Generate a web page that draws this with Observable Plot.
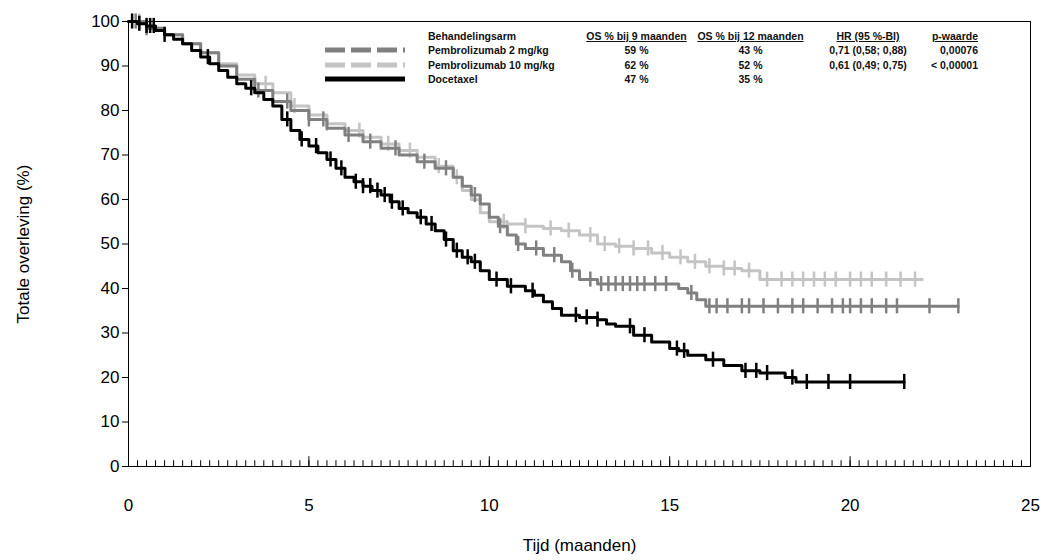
<!DOCTYPE html>
<html><head><meta charset="utf-8">
<script src="https://cdn.jsdelivr.net/npm/d3@7"></script>
<script src="https://cdn.jsdelivr.net/npm/@observablehq/plot@0.6"></script>
<style>
body{margin:0;background:#fff;font-family:"Liberation Sans",Arial,sans-serif;}
#wrap{position:relative;width:1050px;height:560px;}
#leg{position:absolute;left:325px;top:29px;font-size:10.5px;font-weight:bold;color:#111;background:#fff;}
#leg table{border-collapse:collapse;table-layout:fixed;}
#leg td{padding:0;line-height:14.5px;white-space:nowrap;}
#leg th{font-weight:bold;padding:0;line-height:14px;white-space:nowrap;}
#leg th span{text-decoration:underline;}
</style></head><body>
<div id="wrap"><div id="chart"></div>
<div id="leg"><table>
<colgroup><col style="width:103px"><col style="width:157px"><col style="width:103px"><col style="width:125px"><col style="width:110px"><col style="width:55px"></colgroup>
<tr><th></th><th style="text-align:left">Behandelingsarm</th><th><span>OS % bij 9 maanden</span></th><th><span>OS % bij 12 maanden</span></th><th><span>HR (95 %-BI)</span></th><th style="text-align:right"><span>p-waarde</span></th></tr>
<tr><td><svg width="80" height="8"><line x1="0" x2="80" y1="4" y2="4" stroke="#808080" stroke-width="5" stroke-dasharray="20,6"/></svg></td><td>Pembrolizumab 2 mg/kg</td><td style="text-align:center">59 %</td><td style="text-align:center">43 %</td><td style="text-align:center">0,71 (0,58; 0,88)</td><td style="text-align:right">0,00076</td></tr>
<tr><td><svg width="80" height="8"><line x1="0" x2="80" y1="4" y2="4" stroke="#c4c4c4" stroke-width="5" stroke-dasharray="20,6"/></svg></td><td>Pembrolizumab 10 mg/kg</td><td style="text-align:center">62 %</td><td style="text-align:center">52 %</td><td style="text-align:center">0,61 (0,49; 0,75)</td><td style="text-align:right">&lt; 0,00001</td></tr>
<tr><td><svg width="80" height="8"><line x1="0" x2="80" y1="4" y2="4" stroke="#000" stroke-width="5"/></svg></td><td>Docetaxel</td><td style="text-align:center">47 %</td><td style="text-align:center">35 %</td><td></td><td></td></tr>
</table></div></div>
<script>
const docT=[0,0.25,0.5,0.75,1,1.25,1.5,1.75,2,2.25,2.5,2.75,3,3.25,3.5,3.75,4,4.25,4.5,4.75,5,5.25,5.5,5.75,6,6.25,6.5,6.75,7,7.25,7.5,7.75,8,8.25,8.5,8.75,9,9.25,9.5,9.75,10,10.5,11,11.25,11.5,11.75,12,12.5,13,13.25,13.5,14,14.5,15,15.25,15.5,16,16.5,17,17.5,18,18.2,18.5,21.5];
const docS=[100,99.5,99,98,97,96,95,93.5,92,90.5,89,87.5,86,85,84,82.5,81,78,75.5,73.5,72,70.5,69,67,65,64,63,62,61,59.5,58,57,56,54.5,53,51,48.5,47,46,44,42,40.5,39.5,38.5,37,35.5,34,33.5,33,32,31.5,29.5,28,26.5,26,25,24,22.7,21.5,21,21,20,19,19];
const p2T=[0,0.5,1,1.5,2,2.5,3,3.5,4,4.5,5,5.5,6,6.5,7,7.5,8,8.5,9,9.25,9.5,9.75,10,10.25,10.5,10.75,11,11.5,12,12.25,12.5,13,14,15,15.25,15.5,15.75,16,17,18,23];
const p2S=[100,98.5,97,95,93,90,87,84.5,82,80,78,76,74.5,73,71.5,70,68.5,67,65,63,61,59,56,54,52,50,49,47.5,46,44,42,41,41,41,40,39,37.5,36,36,36,36];
const p10T=[0,0.5,1,1.5,2,2.5,3,3.5,4,4.5,5,5.5,6,6.5,7,7.5,8,8.5,9,9.25,9.5,9.75,10,10.5,11,11.5,12,12.5,13,13.5,14,14.5,15,15.5,16,16.5,17,17.5,18,22];
const p10S=[100,98.5,97,95,93,90.5,88,86,84,81,79,77,75.5,74,72.5,71,69.5,67.5,65,62,60,57,55,54.5,54,53.5,53,52,50,49.5,49,48,47,46,45,44.5,44,42,42,42];
const docC=[0.1,0.3,0.5,0.6,0.7,1,2.2,3.4,4.4,4.8,5.2,5.6,5.9,6.3,6.5,6.7,6.9,7.1,7.3,7.6,8.1,8.4,8.8,9.1,9.4,9.6,10.2,10.6,11.2,12.4,12.7,13,13.9,14.3,15.2,15.4,16.2,17.1,17.4,17.7,18.4,18.8,19.4,20,21.5];
const p2C=[0.2,0.5,3.6,4.4,5,5.4,6.1,6.7,7.4,8.2,8.8,9.6,10.3,10.8,11.3,11.8,12.3,12.8,13.1,13.3,13.5,13.7,13.9,14.1,14.3,14.6,14.9,15.6,16.1,16.3,16.6,17,17.2,17.6,18,18.4,18.7,19.1,19.5,19.8,20,20.3,20.6,21,21.3,22.2,23];
const p10C=[0.3,3.8,4.6,5.5,6.4,7.2,7.8,8.6,9.1,10.4,11,11.7,12.2,12.8,13.2,13.6,14,14.4,14.8,15.3,15.7,16.1,16.5,16.8,17.2,17.7,18.1,18.4,18.7,19,19.3,19.6,20,20.3,20.6,21,21.4,21.8];
const mk=(T,S)=>T.map((t,i)=>({t,s:S[i]}));
const doc=mk(docT,docS),p2=mk(p2T,p2S),p10=mk(p10T,p10S);
const at=(T,S,t)=>S[d3.bisectRight(T,t)-1];
const cdat=(C,T,S)=>C.map(t=>({t,s:at(T,S,t)}));
const minor=d3.range(0,25.01,0.25);
const cens=(data,c)=>Plot.ruleX(data,{x:"t",y1:d=>d.s-1.7,y2:d=>d.s+1.7,stroke:c,strokeWidth:2.5});
const plot=Plot.plot({
  width:1050,height:560,marginLeft:128,marginRight:20,marginTop:21,marginBottom:94,
  style:{fontSize:"17px",fontFamily:"Liberation Sans, Arial, sans-serif",color:"#000"},
  x:{domain:[0,25],ticks:[0,5,10,15,20,25],tickSize:0,tickPadding:32,label:"Tijd (maanden)",labelAnchor:"center",labelOffset:84,labelArrow:"none"},
  y:{domain:[0,100],ticks:d3.range(0,101,10),tickSize:6,label:"Totale overleving (%)",labelAnchor:"center",labelOffset:112,labelArrow:"none"},
  marks:[
    Plot.frame({stroke:"#000"}),
    Plot.ruleX(minor,{x:d=>d,y1:0,y2:1.3,stroke:"#000"}),
    Plot.ruleX([0,5,10,15,20,25],{x:d=>d,y1:0,y2:2.2,stroke:"#000"}),
    Plot.line(p10,{x:"t",y:"s",curve:"step-after",stroke:"#c4c4c4",strokeWidth:3}),
    cens(cdat(p10C,p10T,p10S),"#c4c4c4"),
    Plot.line(p2,{x:"t",y:"s",curve:"step-after",stroke:"#808080",strokeWidth:3}),
    cens(cdat(p2C,p2T,p2S),"#808080"),
    Plot.line(doc,{x:"t",y:"s",curve:"step-after",stroke:"#000",strokeWidth:3}),
    cens(cdat(docC,docT,docS),"#000")
  ]
});
document.getElementById("chart").appendChild(plot);
</script></body></html>
